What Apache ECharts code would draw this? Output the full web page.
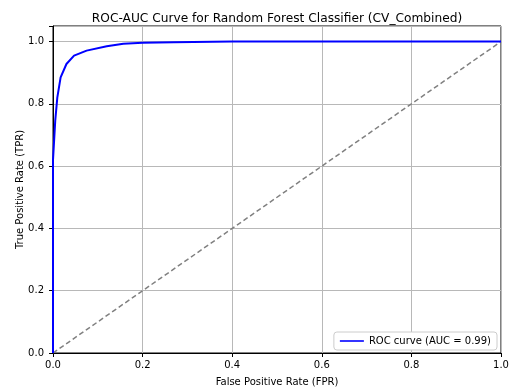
<!DOCTYPE html>
<html><head><meta charset="utf-8">
<script src="https://cdn.jsdelivr.net/npm/echarts@6/dist/echarts.min.js"></script>
<style>html,body{margin:0;padding:0;background:#fff}#c{width:510px;height:389px}</style>
</head><body><div id="c"></div>
<script>
const fpr = [0, 0, 0.005, 0.0096, 0.017, 0.03, 0.047, 0.075, 0.12, 0.157, 0.2, 0.27, 0.4, 0.6, 1.0];
const tpr = [0, 0.62, 0.746, 0.82, 0.885, 0.928, 0.955, 0.971, 0.985, 0.993, 0.996, 0.998, 1.0, 1.0, 1.0];
const diagX = [0, 1];
const diagY = [0, 1];
const xTicks = [0, 0.2, 0.4, 0.6, 0.8, 1.0];
const yTicks = [0, 0.2, 0.4, 0.6, 0.8, 1.0];
const titleText = 'ROC-AUC Curve for Random Forest Classifier (CV_Combined)';
const legendText = 'ROC curve (AUC = 0.99)';

const font = 'DejaVu Sans';
const chart = echarts.init(document.getElementById('c'));
chart.setOption({
  animation: false,
  title: { text: titleText, left: 272, top: 8, textAlign: 'center',
    textStyle: { fontFamily: font, fontSize: 12.2, fontWeight: 'normal', color: '#000' } },
  grid: { left: 53, right: 9, top: 26, bottom: 36, show: true, borderColor: '#000', borderWidth: 1,
    outerBoundsMode: 'none', containLabel: false },
  legend: { right: 13, bottom: 39, orient: 'vertical', data: [legendText],
    icon: 'path://M0,0 L30,0 L30,2 L0,2 Z', itemWidth: 24, itemHeight: 2, itemGap: 0,
    backgroundColor: '#fff', borderColor: '#ccc', borderWidth: 1, borderRadius: 3, padding: [4, 6],
    textStyle: { fontFamily: font, fontSize: 10, color: '#000' } },
  xAxis: { type: 'value', min: 0, max: 1, interval: 0.2,
    name: 'False Positive Rate (FPR)', nameLocation: 'middle', nameGap: 24, nameMoveOverlap: false,
    nameTextStyle: { fontFamily: font, fontSize: 10, color: '#000' },
    axisLine: { show: true, onZero: false, lineStyle: { color: '#000' } },
    axisTick: { show: true, length: 4, lineStyle: { color: '#000' } },
    axisLabel: { fontFamily: font, fontSize: 10, color: '#000', margin: 7,
      formatter: v => v.toFixed(1) },
    splitLine: { show: true, lineStyle: { color: '#b8b8b8', width: 1 } } },
  yAxis: { type: 'value', min: 0, max: 1.05, interval: 0.2,
    name: 'True Positive Rate (TPR)', nameLocation: 'middle', nameGap: 28, nameMoveOverlap: false,
    nameTextStyle: { fontFamily: font, fontSize: 10, color: '#000' },
    axisLine: { show: true, onZero: false, lineStyle: { color: '#000' } },
    axisTick: { show: true, length: 4, lineStyle: { color: '#000' } },
    axisLabel: { fontFamily: font, fontSize: 10, color: '#000', margin: 9,
      formatter: v => (yTicks.some(t => Math.abs(t - v) < 1e-9) ? v.toFixed(1) : '') },
    splitLine: { show: true, lineStyle: { color: '#b8b8b8', width: 1 } } },
  series: [
    { name: legendText, type: 'line', data: fpr.map((x, i) => [x, tpr[i]]),
      showSymbol: false, lineStyle: { color: '#0000ff', width: 2 }, itemStyle: { color: '#0000ff' }, z: 3 },
    { name: 'diag', type: 'line', data: diagX.map((x, i) => [x, diagY[i]]),
      showSymbol: false, lineStyle: { color: '#808080', width: 1.5, type: [5, 3] }, z: 2 }
  ]
});
</script></body></html>
